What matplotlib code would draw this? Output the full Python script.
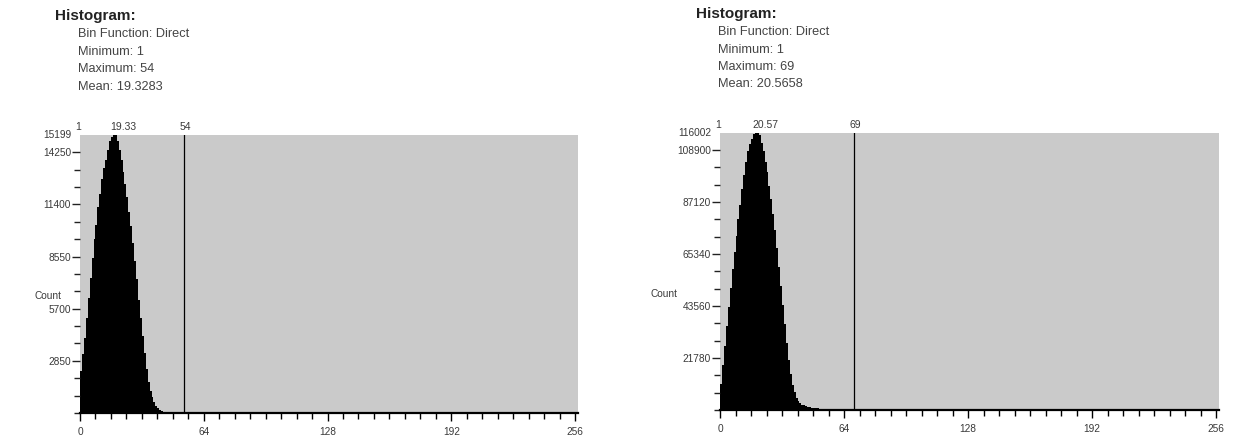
import numpy as np
import matplotlib
matplotlib.use("Agg")
import matplotlib.pyplot as plt
from matplotlib.ticker import MultipleLocator, FixedLocator

plt.rcParams['font.family'] = ['Liberation Sans', 'DejaVu Sans']

# left histogram, counts for pixel values 1..54
left_counts = [2300, 3200, 4100, 5200, 6300, 7400, 8450, 9500, 10300, 11250,
               12000, 12800, 13400, 13850, 14400, 14850, 15100, 15199, 15199, 14850,
               14400, 13850, 13200, 12500, 11800, 11000, 10200, 9300, 8300, 7300,
               6200, 5200, 4200, 3300, 2400, 1700, 1200, 850, 600, 400,
               260, 170, 110, 70, 45, 30, 20, 12, 8, 5,
               3, 2, 1, 1]
left_info = ["Bin Function: Direct", "Minimum: 1", "Maximum: 54", "Mean: 19.3283"]
left_min, left_max, left_mean = 1, 54, 19.33
left_ymax = 15199
left_yticks = [2850, 5700, 8550, 11400, 14250]

# right histogram, counts for pixel values 1..69
right_counts = [11000, 19000, 27000, 35000, 43000, 51000, 59000, 66000, 73000, 80000,
                86000, 92500, 98500, 104000, 108500, 111500, 113500, 115500, 116002, 116002,
                115000, 112000, 108500, 104000, 99500, 94000, 88500, 82000, 75500, 68000,
                60000, 52000, 44000, 36000, 28000, 21000, 15000, 10500, 7500, 5200,
                3800, 2900, 2300, 1900, 1600, 1350, 1150, 1000, 880, 780,
                690, 610, 540, 480, 430, 390, 350, 310, 280, 250,
                220, 200, 180, 160, 140, 120, 100, 80, 60]
right_info = ["Bin Function: Direct", "Minimum: 1", "Maximum: 69", "Mean: 20.5658"]
right_min, right_max, right_mean = 1, 69, 20.57
right_ymax = 116002
right_yticks = [21780, 43560, 65340, 87120, 108900]

xticks = [0, 64, 128, 192, 256]

W, H = 1244, 438
fig = plt.figure(figsize=(W / 100, H / 100), dpi=100)
fig.patch.set_facecolor('white')

TXT = '#3a3a3a'


def draw_panel(rect, counts, vmin, vmax, vmean, ymax, yticks, count_pos, mean_dx):
    ax = fig.add_axes(rect)
    ax.set_facecolor('#cacaca')
    edges = np.arange(0, len(counts) + 1)
    ax.stairs(counts, edges, fill=True, color='black', linewidth=0)
    ax.axvline(vmax, color='black', lw=0.9)

    ax.set_xlim(0, 257.5)
    ax.set_ylim(0, ymax)

    for s in ['top', 'right', 'left']:
        ax.spines[s].set_visible(False)
    ax.spines['bottom'].set_linewidth(1.6)
    ax.spines['bottom'].set_color('black')

    ax.set_xticks(xticks)
    ax.set_xticklabels([str(t) for t in xticks])
    ax.xaxis.set_minor_locator(MultipleLocator(8))
    ax.tick_params(axis='x', which='major', length=6, width=1, pad=4,
                   labelsize=7.3, labelcolor=TXT, color='black')
    ax.tick_params(axis='x', which='minor', length=4.5, width=1, color='black')

    step = yticks[0] / 3
    ax.set_yticks(yticks)
    ax.set_yticklabels([str(t) for t in yticks])
    ax.yaxis.set_minor_locator(FixedLocator(np.arange(0, yticks[-1] + 1, step)))
    ax.tick_params(axis='y', which='major', length=6, width=1, pad=0.5,
                   labelsize=7.3, labelcolor=TXT, color='#222222')
    ax.tick_params(axis='y', which='minor', length=4.5, width=1, color='#222222')

    # max count at the very top, no tick
    ax.annotate(str(ymax), xy=(0, ymax), xycoords=('axes fraction', 'data'),
                xytext=(-6.5, 0), textcoords='offset points',
                ha='right', va='center', fontsize=7.3, color=TXT)

    # markers above the plot
    for val, lab, dx in [(vmin, str(vmin), -3), (vmean, f"{vmean:.2f}", mean_dx),
                         (vmax, str(vmax), 1)]:
        ax.annotate(lab, xy=(val, 1), xycoords=('data', 'axes fraction'),
                    xytext=(dx, 2), textcoords='offset points',
                    ha='center', va='bottom', fontsize=7.5, color=TXT)

    ax.text(count_pos[0], count_pos[1], "Count", transform=ax.transAxes,
            ha='center', va='center', fontsize=7.3, color=TXT)
    return ax


def header(x_title, x_sub, y_title, y_subs, lines):
    fig.text(x_title / W, 1 - y_title / H, "Histogram:", fontsize=11,
             fontweight='bold', color='#222222', ha='left', va='center')
    for y, line in zip(y_subs, lines):
        fig.text(x_sub / W, 1 - y / H, line, fontsize=9.2, color='#444444',
                 ha='left', va='center')


draw_panel([80 / W, 25 / H, 498 / W, 278 / H], left_counts, left_min, left_max,
           left_mean, left_ymax, left_yticks, (-0.064, 0.42), 4)
draw_panel([720 / W, 28 / H, 499 / W, 277 / H], right_counts, right_min, right_max,
           right_mean, right_ymax, right_yticks, (-0.112, 0.42), 4)

header(55, 78, 16, [34, 52, 69, 87], left_info)
header(696, 718, 14, [32, 50, 67, 84], right_info)

plt.savefig("out.png", dpi=100)
plt.close()
